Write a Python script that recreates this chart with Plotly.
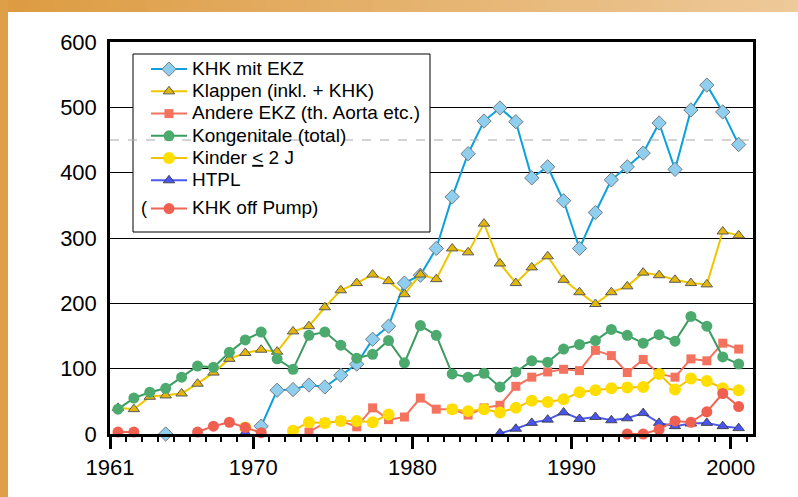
import plotly.graph_objects as go

years = list(range(1961, 2001))

# values read per year 1961..2000, None = no value
khk_mit_ekz = [None, None, None, 0, None, None, None, None, None, 12,
               67, 68, 75, 72, 90, 107, 145, 165, 231, 243,
               284, 363, 429, 479, 499, 478, 392, 409, 357, 284,
               339, 389, 409, 430, 476, 405, 496, 534, 493, 443]
klappen = [40, 38, 57, 59, 62, 77, 94, 115, 124, 129,
           126, 157, 165, 194, 220, 231, 244, 234, 214, 244,
           237, 284, 278, 322, 261, 231, 255, 272, 236, 217,
           199, 217, 226, 247, 243, 236, 231, 229, 310, 304]
andere_ekz = [None, None, None, None, None, None, None, None, None, None,
              None, None, 3, 17, 20, 11, 40, 22, 26, 55,
              38, 38, 29, 40, 44, 73, 87, 95, 99, 97,
              128, 120, 94, 114, 92, 87, 115, 112, 139, 130]
kongenitale = [38, 55, 64, 70, 87, 104, 102, 125, 144, 156,
               115, 99, 151, 156, 136, 116, 122, 143, 109, 166,
               151, 92, 87, 93, 72, 95, 112, 110, 130, 137,
               143, 160, 151, 139, 152, 142, 180, 165, 118, 107]
kinder = [None, None, None, None, None, None, None, None, 10, None,
          None, 5, 18, 17, 20, 20, 18, 30, None, None,
          None, 38, 35, 38, 33, 40, 51, 49, 53, 64,
          67, 70, 71, 72, 92, 68, 85, 81, 70, 67]
htpl = [None, None, None, None, None, None, None, None, 2, None,
        None, None, None, None, None, None, None, None, None, None,
        None, None, None, None, 1, 8, 17, 22, 33, 23,
        26, 21, 24, 32, 17, 12, 16, 17, 12, 9]
khk_off_pump = [3, 3, None, None, None, 3, 12, 18, 10, 2,
                None, None, None, None, None, None, None, None, None, None,
                None, None, None, None, None, None, None, None, None, None,
                None, None, 0, 0, 7, 20, 18, 34, 62, 42]

tick_labels = ["1961", "1970", "1980", "1990", "2000"]
tick_pos = [1960.5, 1969.5, 1979.5, 1989.5, 1999.5]

FONT = "Liberation Sans, Arial, sans-serif"
LEG = "<span style='font-size:19px'>%s</span>"

series = [
    ("KHK mit EKZ", khk_mit_ekz, "#0CA0DC", dict(symbol="diamond", size=11, color="#8ECFF0", line=dict(color="#7A7A7A", width=1)), "a"),
    ("Klappen (inkl. + KHK)", klappen, "#EEC600", dict(symbol="triangle-up", size=10, color="#E3B60A", line=dict(color="#5A5A5A", width=1)), "a"),
    ("Andere EKZ (th. Aorta etc.)", andere_ekz, "#F4735F", dict(symbol="square", size=9, color="#F4735F"), "a"),
    ("Kongenitale (total)", kongenitale, "#3A9C5E", dict(symbol="circle", size=11, color="#4CAA6F"), "a"),
    ("Kinder <u>&lt;</u> 2 J", kinder, "#F0C200", dict(symbol="circle", size=12, color="#FFDE00"), "a"),
    ("HTPL", htpl, "#4B5AF0", dict(symbol="triangle-up", size=10, color="#4A55EE", line=dict(color="#333333", width=0.8)), "a"),
    ("KHK off Pump)", khk_off_pump, "#EF6555", dict(symbol="circle", size=11, color="#EF6050"), "b"),
]

fig = go.Figure()
for name, vals, lc, mk, grp in series:
    fig.add_trace(go.Scatter(x=years, y=vals, name=LEG % name, mode="lines+markers",
                             line=dict(color=lc, width=2), marker=mk,
                             legendgroup=grp, cliponaxis=False, connectgaps=False))

shapes = []
# orange frame, top bar with gradient
n = 60
c0 = (221, 156, 66)
c1 = (238, 201, 153)
for i in range(n):
    t = i / (n - 1)
    col = "rgb(%d,%d,%d)" % tuple(int(c0[k] + (c1[k] - c0[k]) * t) for k in range(3))
    x0 = -110 / 643 + i * (798 / 643) / n
    x1 = x0 + (798 / 643) / n + 0.002
    shapes.append(dict(type="rect", xref="paper", yref="paper", x0=x0, x1=x1,
                       y0=(434 - 12) / 392, y1=434 / 392 + 0.01, fillcolor=col, line_width=0, layer="below"))
shapes.append(dict(type="rect", xref="paper", yref="paper", x0=-110 / 643 - 0.01, x1=-102 / 643,
                   y0=-0.2, y1=434 / 392 + 0.01, fillcolor="rgb(222,159,72)", line_width=0, layer="below"))
# legend box
shapes.append(dict(type="rect", xref="paper", yref="paper", x0=23 / 643, x1=320 / 643,
                   y0=(434 - 232) / 392, y1=(434 - 54) / 392, fillcolor="white",
                   line=dict(color="black", width=1), layer="above"))
# dashed reference line
shapes.append(dict(type="line", xref="paper", yref="y", x0=0, x1=1, y0=450, y1=450,
                   line=dict(color="#A8A8A8", width=1, dash="dash"), layer="above"))

fig.update_layout(
    width=798, height=497,
    margin=dict(l=110, r=45, t=42, b=63),
    paper_bgcolor="white", plot_bgcolor="white",
    font=dict(family=FONT, color="black"),
    shapes=shapes,
    showlegend=True,
    legend=dict(x=36 / 643, y=(434 - 53) / 392, xanchor="left", yanchor="top",
                bgcolor="rgba(0,0,0,0)", borderwidth=0, font=dict(size=14.8, family=FONT),
                traceorder="grouped", tracegroupgap=6, itemwidth=36),
    annotations=[dict(text="(", xref="paper", yref="paper", x=(139 - 110) / 643, y=(434 - 208) / 392,
                      showarrow=False, font=dict(size=18, family=FONT))],
    xaxis=dict(range=[1960.5, 2000.9], tickmode="array", tickvals=tick_pos, ticktext=tick_labels,
               ticks="outside", ticklen=12, tickwidth=2.5, tickcolor="black",
               minor=dict(ticks="outside", ticklen=5, tickwidth=1.5, tickcolor="black",
                          tickmode="linear", tick0=1960.5, dtick=1),
               showgrid=False, zeroline=False, showline=True, linewidth=2.5, linecolor="black",
               mirror=True, tickfont=dict(size=22, family=FONT)),
    yaxis=dict(range=[0, 600], tickvals=[0, 100, 200, 300, 400, 500, 600], ticks="",
               showgrid=True, gridcolor="black", gridwidth=1, zeroline=False,
               showline=True, linewidth=2.5, linecolor="black", mirror=True,
               ticklabelstandoff=6, tickfont=dict(size=22, family=FONT)),
)

fig.write_html("out.html", config={"displayModeBar": False},
               post_script="document.body.style.margin='0';")
